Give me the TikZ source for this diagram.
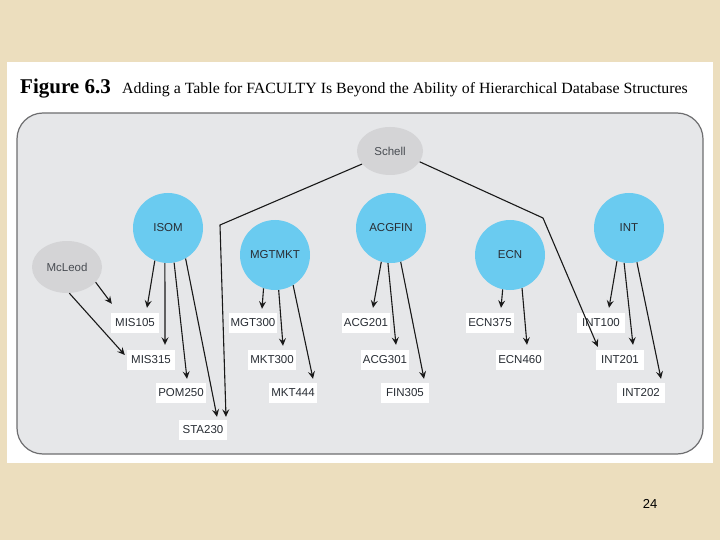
\documentclass[tikz,border=0pt]{standalone}
\usepackage{fontspec}
\setmainfont{Liberation Serif}
\setsansfont{Liberation Sans}
\usetikzlibrary{calc,arrows.meta,shapes.geometric}
\definecolor{parch}{RGB}{236,222,190}
\definecolor{panelgray}{RGB}{230,231,233}
\definecolor{boxborder}{RGB}{110,110,112}
\definecolor{dept}{RGB}{106,203,240}
\definecolor{prof}{RGB}{212,212,214}
\definecolor{lbl}{RGB}{40,45,52}
\tikzset{
  deptnode/.style={circle, fill=dept, minimum size=70pt, inner sep=0pt, text=lbl, font=\sffamily\fontsize{11.5}{13}\selectfont},
  profnode/.style={ellipse, fill=prof, inner sep=0pt, text=lbl!85, font=\sffamily\fontsize{11.5}{13}\selectfont},
  course/.style={rectangle, fill=white, minimum width=48pt, minimum height=20pt, inner sep=2pt, text=lbl, font=\sffamily\fontsize{11.5}{13}\selectfont},
  link/.style={line width=1.1pt, black!90, -{Stealth[length=7.5pt,width=7pt,inset=2.8pt]}},
}
\begin{document}
\begin{tikzpicture}[x=1pt,y=-1pt]
\useasboundingbox (0,0) rectangle (720,540);
\fill[parch] (0,0) rectangle (720,540);
\fill[white] (7,62) rectangle (713,463);
\draw[boxborder, line width=1.2pt, fill=panelgray, rounded corners=26pt] (17,113) rectangle (703,454);
% title
\node[anchor=base west, inner sep=0pt, font=\bfseries\fontsize{21}{24}\selectfont] (fig) at (20,94) {Figure 6.3};
\node[anchor=base west, inner sep=0pt, font=\fontsize{15}{18}\selectfont] (cap) at (122,94) {\scalebox{1.058}[1.04]{Adding a Table for FACULTY Is Beyond the Ability of Hierarchical Database Structures}};
% professors
\node[profnode, minimum width=66pt, minimum height=48pt] (schell) at (390,151) {Schell};
\node[profnode, minimum width=70pt, minimum height=52pt] (mcleod) at (67,267) {McLeod};
% departments
\node[deptnode] (isom) at (168,228) {ISOM};
\node[deptnode] (mgtmkt) at (275,255) {MGTMKT};
\node[deptnode] (acgfin) at (391,228) {ACGFIN};
\node[deptnode] (ecn) at (510,255) {ECN};
\node[deptnode] (int) at (629,228) {INT};
% courses
\node[course] (mis105) at (135,323) {MIS105};
\node[course] (mis315) at (151,360) {MIS315};
\node[course] (pom250) at (181,393) {POM250};
\node[course] (sta230) at (203,430) {STA230};
\node[course] (mgt300) at (253,323) {MGT300};
\node[course] (mkt300) at (272,360) {MKT300};
\node[course] (mkt444) at (293,393) {MKT444};
\node[course] (acg201) at (366,323) {ACG201};
\node[course] (acg301) at (385,360) {ACG301};
\node[course] (fin305) at (405,393) {FIN305};
\node[course] (ecn375) at (490,323) {ECN375};
\node[course] (ecn460) at (520,360) {ECN460};
\node[course] (int100) at (601,323) {INT100};
\node[course] (int201) at (620,360) {INT201};
\node[course] (int202) at (641,393) {INT202};
% ISOM
\draw[link] (isom.248) -- ($(mis105.north)+(12,-5)$);
\draw[link] (isom.265) -- ($(mis315.north)+(14,-5)$);
\draw[link] (isom.280) -- ($(pom250.north)+(6,-4)$);
\draw[link] (isom.300) -- ($(sta230.north)+(14,-3)$);
% MGTMKT
\draw[link] (mgtmkt.251) -- ($(mgt300.north)+(9,-4)$);
\draw[link] (mgtmkt.276) -- ($(mkt300.north)+(11,-4)$);
\draw[link] (mgtmkt.301) -- ($(mkt444.north)+(20,-4)$);
% ACGFIN
\draw[link] (acgfin.254) -- ($(acg201.north)+(7,-5)$);
\draw[link] (acgfin.265) -- ($(acg301.north)+(11,-5)$);
\draw[link] (acgfin.286) -- ($(fin305.north)+(19,-4)$);
% ECN
\draw[link] (ecn.258) -- ($(ecn375.north)+(11,-5)$);
\draw[link] (ecn.290) -- ($(ecn460.north)+(7,-5)$);
% INT
\draw[link] (int.250) -- ($(int100.north)+(8,-5)$);
\draw[link] (int.262) -- ($(int201.north)+(13,-5)$);
\draw[link] (int.283) -- ($(int202.north)+(20,-4)$);
% McLeod
\draw[link] (mcleod.-28) -- ($(mis105.north west)+(1,-9)$);
\draw[link] (mcleod.275) -- ($(mis315.west)+(-2,-5)$);
% Schell
\coordinate (sbendL) at (220,225);
\coordinate (sbendR) at (543,218);
\draw[link] (schell.205) -- (sbendL) -- ($(sta230.north)+(23,-3)$);
\draw[link] (schell.-20) -- (sbendR) -- ($(int201.north west)+(2,-3)$);
% page number
\node[font=\sffamily\fontsize{13}{15}\selectfont] (pg) at (650,504) {24};
\end{tikzpicture}
\end{document}
